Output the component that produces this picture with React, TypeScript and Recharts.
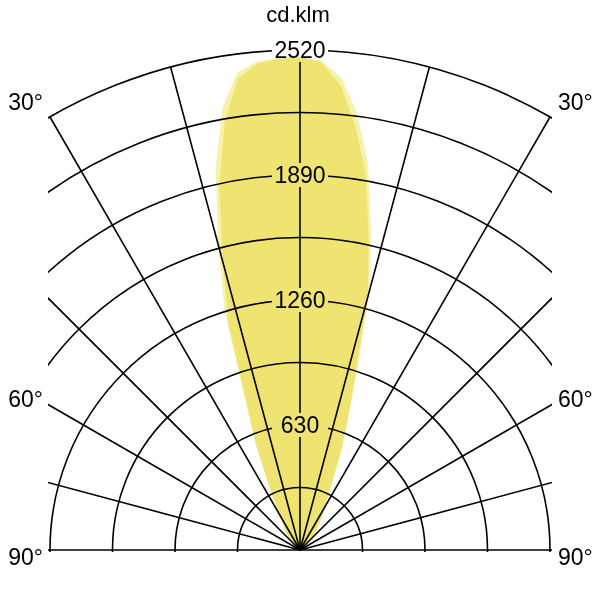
import React from 'react';
import { RadarChart, Radar, PolarGrid, PolarAngleAxis, PolarRadiusAxis } from 'recharts';

// polar angle from the vertical, one half plane (deg)
const gammas = [
  0, 2.5, 5, 7.5, 10, 12.5, 15, 17.5, 20, 22.5, 25, 27.5, 30, 32.5, 35, 37.5, 40, 42.5, 45,
  47.5, 50, 52.5, 55, 57.5, 60, 62.5, 65, 67.5, 70, 72.5, 75, 77.5, 80, 82.5, 85, 87.5, 90,
];

// luminous intensity, cd/klm
const c0 = [
  2485, 2462, 2350, 2150, 1915, 1600, 1320, 930, 700, 540, 390, 300, 250, 210, 180, 150, 125, 105, 90,
  75, 62, 50, 42, 35, 28, 22, 17, 13, 10, 7, 5, 3, 2, 1, 0, 0, 0,
];
const c90 = [
  2485, 2468, 2390, 2215, 1975, 1655, 1365, 965, 720, 555, 400, 305, 255, 212, 182, 152, 126, 106, 90,
  75, 62, 50, 42, 35, 28, 22, 17, 13, 10, 7, 5, 3, 2, 1, 0, 0, 0,
];
const c180 = [
  2485, 2482, 2472, 2425, 2260, 1965, 1590, 1265, 820, 600, 410, 295, 210, 170, 143, 122, 102, 86, 71,
  60, 50, 40, 35, 30, 25, 20, 15, 12, 10, 8, 5, 4, 3, 2, 1, 0, 0,
];
const c270 = [
  2485, 2478, 2462, 2395, 2190, 1880, 1500, 1200, 780, 580, 390, 280, 200, 165, 140, 120, 100, 85, 70,
  60, 50, 40, 35, 30, 25, 20, 15, 12, 10, 8, 5, 4, 3, 2, 1, 0, 0,
];

const ringValues = [0, 315, 630, 945, 1260, 1575, 1890, 2205, 2520];
const labelledRings = [630, 1260, 1890, 2520];
const spokeAngles = [-90, -75, -60, -45, -30, -15, 0, 15, 30, 45, 60, 75, 90];
const sideLabels = ['30°', '60°', '90°'];
const unitLabel = 'cd.klm';

const FONT = '"Liberation Sans", Arial, sans-serif';
const STEP = gammas[1] - gammas[0];

// whole turn, clockwise from the top, for the radar angle axis
const data = Array.from({ length: Math.round(360 / STEP) }, (_, i) => {
  const deg = i * STEP;
  const right = gammas.indexOf(deg);
  const left = gammas.indexOf(360 - deg);
  return {
    angle: deg,
    planeA: right >= 0 ? c0[right] : left >= 0 ? c180[left] : 0,
    planeB: right >= 0 ? c90[right] : left >= 0 ? c270[left] : 0,
  };
});

function RingTick(props: any) {
  const { x, y, payload } = props;
  if (!labelledRings.includes(payload.value)) return <g />;
  return (
    <g>
      <rect x={x - 28} y={y - 12} width={56} height={24} fill="#fff" />
      <text x={x} y={y} textAnchor="middle" dominantBaseline="central" fontSize={23} fill="#000" fontFamily={FONT}>
        {payload.value}
      </text>
    </g>
  );
}

const sideY = [110, 407, 565];

export default function App() {
  return (
    <div style={{ position: 'absolute', left: 0, top: 0, width: 600, height: 600, background: '#fff' }}>
      <style>{'.lobe { mix-blend-mode: multiply; }'}</style>
      <div style={{ position: 'absolute', left: 48, top: 0 }}>
        <RadarChart
          width={504}
          height={552}
          data={data}
          cx={252}
          cy={550}
          outerRadius={500}
          startAngle={90}
          endAngle={-270}
          margin={{ top: 0, right: 0, bottom: 0, left: 0 }}
        >
          <PolarGrid
            gridType="circle"
            polarAngles={spokeAngles.map((g) => 90 - g)}
            stroke="#000"
            strokeWidth={1.6}
          />
          <PolarAngleAxis dataKey="angle" tick={false} axisLine={false} tickLine={false} />
          <PolarRadiusAxis
            angle={90}
            type="number"
            domain={[0, ringValues[ringValues.length - 1]]}
            ticks={ringValues as any}
            tickCount={ringValues.length}
            axisLine={false}
            tick={RingTick}
          />
          <Radar {...({ zIndex: 2500 } as any)} dataKey="planeA" className="lobe" fill="#f7f1aa" fillOpacity={1} stroke="none" dot={false} isAnimationActive={false} />
          <Radar {...({ zIndex: 2500 } as any)} dataKey="planeB" className="lobe" fill="#f7f1aa" fillOpacity={1} stroke="none" dot={false} isAnimationActive={false} />
        </RadarChart>
      </div>
      <svg width={600} height={600} style={{ position: 'absolute', left: 0, top: 0, pointerEvents: 'none' }}>
        <text x={298} y={22} textAnchor="middle" fontSize={22} fill="#000" fontFamily={FONT}>
          {unitLabel}
        </text>
        {sideLabels.map((s, i) => (
          <g key={s}>
            <text x={43} y={sideY[i]} textAnchor="end" fontSize={23} fill="#000" fontFamily={FONT}>{s}</text>
            <text x={558} y={sideY[i]} textAnchor="start" fontSize={23} fill="#000" fontFamily={FONT}>{s}</text>
          </g>
        ))}
      </svg>
    </div>
  );
}
